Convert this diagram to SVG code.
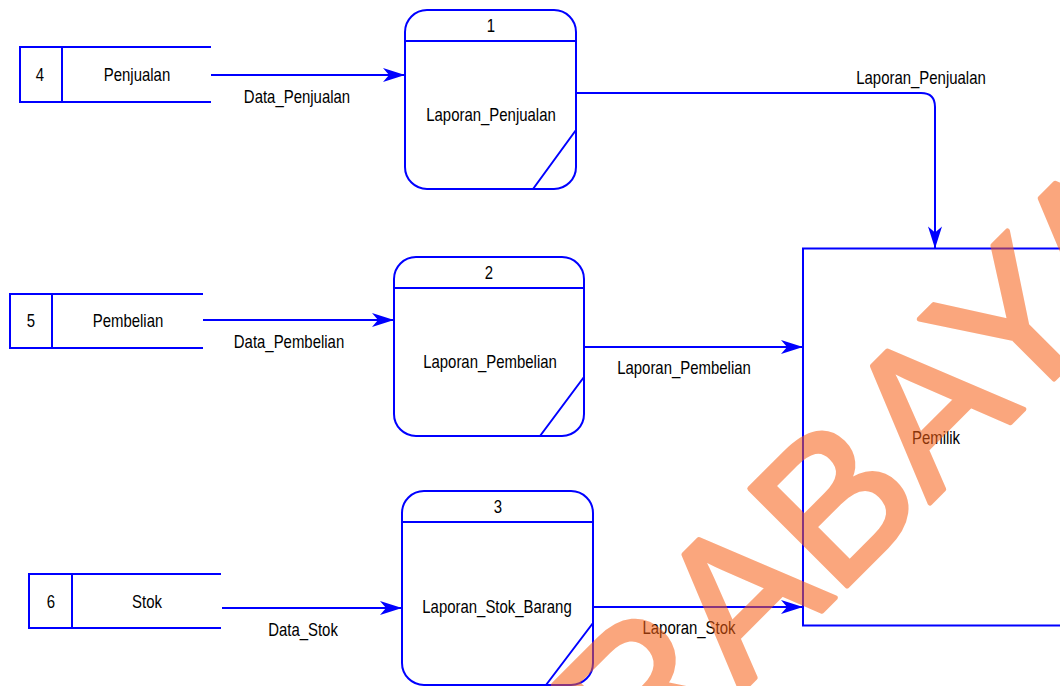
<svg xmlns="http://www.w3.org/2000/svg" width="1060" height="686" viewBox="0 0 1060 686">
<defs>
<style>
.ln{fill:none;stroke:#0000ff;stroke-width:2}
.t{font-family:"Liberation Sans",Arial,sans-serif;font-size:18px;fill:#000;text-anchor:middle}
.wm{font-family:"Liberation Sans",Arial,sans-serif;font-size:200px;fill:#f75f14;stroke:#f75f14;stroke-width:5;stroke-linejoin:round}
</style>
<marker id="arr" markerUnits="userSpaceOnUse" markerWidth="24" markerHeight="16" viewBox="-23 -8 24 16" refX="0" refY="0" orient="auto">
<path d="M0,0 L-22,-7 L-16,0 L-22,7 Z" fill="#0000ff"/>
</marker>
</defs>
<rect width="1060" height="686" fill="#fff"/>

<g id="store4">
<path class="ln" d="M211,47 H20 V102 H211 M62,47 V102"/>
<text class="t" transform="translate(40,81) scale(0.83,1)">4</text>
<text class="t" transform="translate(137,81) scale(0.83,1)">Penjualan</text>
</g>
<g id="store5">
<path class="ln" d="M203,294 H10 V348 H203 M52,294 V348"/>
<text class="t" transform="translate(31,327) scale(0.83,1)">5</text>
<text class="t" transform="translate(128,327) scale(0.83,1)">Pembelian</text>
</g>
<g id="store6">
<path class="ln" d="M221,574 H29 V628 H221 M72,574 V628"/>
<text class="t" transform="translate(51,608) scale(0.83,1)">6</text>
<text class="t" transform="translate(147,608) scale(0.83,1)">Stok</text>
</g>

<g id="proc1">
<rect class="ln" x="405" y="10" width="171" height="179" rx="22"/>
<path class="ln" d="M405,41 H576 M533,189 L576,130"/>
<text class="t" transform="translate(491,32) scale(0.83,1)">1</text>
<text class="t" transform="translate(491,121) scale(0.83,1)">Laporan_Penjualan</text>
</g>
<g id="proc2">
<rect class="ln" x="394" y="257" width="190" height="179" rx="22"/>
<path class="ln" d="M394,288 H584 M540,436 L584,377"/>
<text class="t" transform="translate(489,279) scale(0.83,1)">2</text>
<text class="t" transform="translate(490,368) scale(0.83,1)">Laporan_Pembelian</text>
</g>
<g id="proc3">
<rect class="ln" x="402" y="491" width="191" height="194" rx="22"/>
<path class="ln" d="M402,522 H593 M546,685 L593,623"/>
<text class="t" transform="translate(498,513) scale(0.83,1)">3</text>
<text class="t" transform="translate(497,613) scale(0.83,1)">Laporan_Stok_Barang</text>
</g>

<g id="pemilik">
<rect class="ln" x="803" y="248.5" width="300" height="377"/>
<text class="t" transform="translate(936,444) scale(0.83,1)">Pemilik</text>
</g>

<g id="connectors">
<path class="ln" d="M211,75 H405" marker-end="url(#arr)"/>
<text class="t" transform="translate(297,103) scale(0.83,1)">Data_Penjualan</text>
<path class="ln" d="M203,320 H394" marker-end="url(#arr)"/>
<text class="t" transform="translate(289,348) scale(0.83,1)">Data_Pembelian</text>
<path class="ln" d="M222,608 H402" marker-end="url(#arr)"/>
<text class="t" transform="translate(303,636) scale(0.83,1)">Data_Stok</text>
<path class="ln" d="M576,93 H921 Q935,93 935,107 V248.5" marker-end="url(#arr)"/>
<text class="t" transform="translate(921,84) scale(0.83,1)">Laporan_Penjualan</text>
<path class="ln" d="M584,347 H803" marker-end="url(#arr)"/>
<text class="t" transform="translate(684,374) scale(0.83,1)">Laporan_Pembelian</text>
<path class="ln" d="M593,607 H803" marker-end="url(#arr)"/>
<text class="t" transform="translate(689,634) scale(0.83,1)">Laporan_Stok</text>
</g>

<g id="watermark" opacity="0.55">
<text class="wm" transform="translate(639,794) rotate(-45)">RABAYA</text>
</g>
</svg>
